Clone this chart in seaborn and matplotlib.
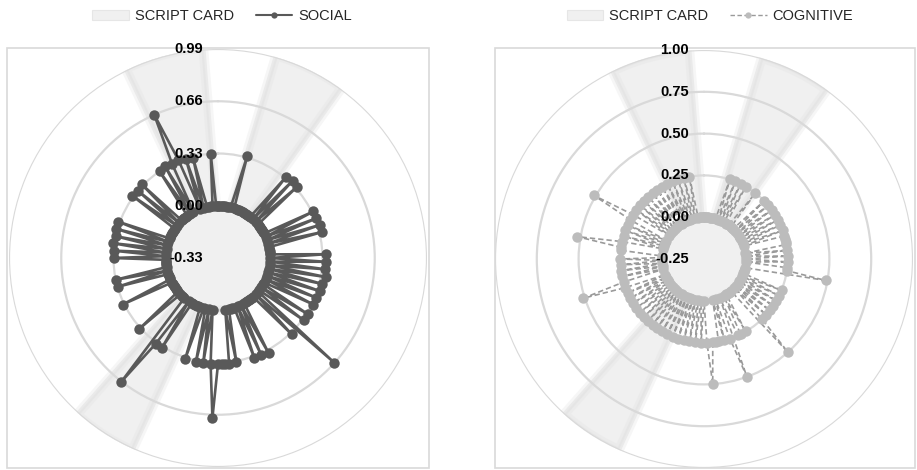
import numpy as np
import pandas as pd
import matplotlib
matplotlib.use("Agg")
import matplotlib.pyplot as plt
import matplotlib.transforms as mtransforms
from matplotlib.patches import Rectangle, Patch
from matplotlib.lines import Line2D
import seaborn as sns

# ---------------- data (180 categories, clockwise from top) ----------------
categories = list(range(1, 181))

script_card = (
    [0, 0, 0, 0, 0, 0, 0, 0, 1, 1, 1, 1, 1, 1, 1]
    + [1, 1, 1, 1, 0, 0, 0, 0, 0, 0, 0, 0, 0, 0, 0]
    + [0, 0, 0, 0, 0, 0, 0, 0, 0, 0, 0, 0, 0, 0, 0]
    + [0, 0, 0, 0, 0, 0, 0, 0, 0, 0, 0, 0, 0, 0, 0]
    + [0, 0, 0, 0, 0, 0, 0, 0, 0, 0, 0, 0, 0, 0, 0]
    + [0, 0, 0, 0, 0, 0, 0, 0, 0, 0, 0, 0, 0, 0, 0]
    + [0, 0, 0, 0, 0, 0, 0, 0, 0, 0, 0, 0, 1, 1, 1]
    + [1, 1, 1, 1, 1, 1, 1, 0, 0, 0, 0, 0, 0, 0, 0]
    + [0, 0, 0, 0, 0, 0, 0, 0, 0, 0, 0, 0, 0, 0, 0]
    + [0, 0, 0, 0, 0, 0, 0, 0, 0, 0, 0, 0, 0, 0, 0]
    + [0, 0, 0, 0, 0, 0, 0, 0, 0, 0, 0, 0, 0, 0, 0]
    + [0, 0, 1, 1, 1, 1, 1, 1, 1, 1, 1, 1, 1, 1, 0]
)

social = (
    [0, 0, 0, 0, 0, 0, 0, 0, 0.34, 0, 0, 0, 0, 0, 0]
    + [0, 0, 0, 0, 0, 0.34, 0, 0.35, 0, 0.34, 0, 0, 0, 0, 0]
    + [0, 0, 0.34, 0, 0.34, 0, 0.35, 0, 0.35, 0, 0, 0, 0, 0, 0.35]
    + [0, 0.35, 0, 0.35, 0, 0.36, 0, 0.35, 0, 0.35, 0, 0.34, 0, 0.34, 0]
    + [0, 0.34, 0, 0.34, 0, 0, 0.66, 0, 0.34, 0, 0, 0, 0, 0, 0]
    + [0, 0.35, 0, 0.34, 0, 0.34, 0, 0, 0, 0, 0.34, 0, 0.34, 0.34, 0.34]
    + [0.34, 0.68, 0.34, 0, 0.34, 0, 0.34, 0, 0, 0.34, 0, 0, 0, 0, 0]
    + [0, 0.34, 0, 0.34, 0.66, 0, 0, 0, 0, 0.34, 0, 0, 0, 0, 0]
    + [0, 0, 0.34, 0, 0, 0, 0, 0.33, 0, 0.33, 0, 0, 0, 0, 0]
    + [0.33, 0, 0.33, 0, 0.34, 0, 0.33, 0, 0.34, 0, 0.34, 0, 0, 0, 0]
    + [0, 0, 0, 0.34, 0, 0.33, 0, 0.34, 0, 0, 0, 0, 0, 0.33, 0]
    + [0.34, 0, 0.33, 0.66, 0.34, 0, 0.33, 0, 0.32, 0, 0, 0, 0, 0.33, 0]
)

cognitive = (
    [0, 0, 0, 0, 0, 0, 0, 0, 0, 0.25, 0, 0.25, 0, 0.25, 0]
    + [0.25, 0, 0, 0, 0.25, 0, 0, 0, 0.25, 0, 0.25, 0, 0.25, 0, 0.25]
    + [0, 0.25, 0, 0.25, 0, 0.25, 0, 0.25, 0.25, 0.25, 0.25, 0, 0.25, 0, 0.25]
    + [0, 0.25, 0, 0.25, 0.25, 0.49, 0, 0, 0, 0, 0, 0.25, 0, 0.25, 0]
    + [0.25, 0, 0.25, 0, 0.25, 0, 0.25, 0, 0.25, 0.5, 0, 0, 0, 0, 0]
    + [0.25, 0, 0.25, 0.25, 0, 0.5, 0.25, 0, 0.25, 0, 0.25, 0.25, 0.25, 0.5, 0.25]
    + [0, 0.25, 0, 0.25, 0, 0.25, 0, 0.25, 0, 0.25, 0, 0.25, 0, 0.25, 0]
    + [0.25, 0, 0.25, 0, 0.25, 0, 0.25, 0, 0.25, 0, 0.25, 0, 0.25, 0, 0.25]
    + [0, 0.25, 0, 0.25, 0, 0.25, 0.51, 0.25, 0, 0.25, 0, 0.25, 0, 0.25, 0]
    + [0.25, 0, 0, 0.25, 0.25, 0.52, 0.25, 0, 0.25, 0, 0.25, 0, 0.25, 0, 0.25]
    + [0.51, 0.25, 0, 0.25, 0, 0.25, 0, 0.25, 0, 0.25, 0, 0.25, 0, 0.25, 0]
    + [0.25, 0, 0.25, 0, 0.25, 0, 0.25, 0, 0.25, 0, 0.25, 0, 0, 0, 0]
)

left_ticks = [-0.33, 0.00, 0.33, 0.66, 0.99]
left_tick_labels = ["-0.33", "0.00", "0.33", "0.66", "0.99"]
right_ticks = [-0.25, 0.00, 0.25, 0.50, 0.75, 1.00]
right_tick_labels = ["-0.25", "0.00", "0.25", "0.50", "0.75", "1.00"]

# ---------------- style ----------------
sns.set_theme(style="white")
plt.rcParams["font.family"] = ["Liberation Sans", "DejaVu Sans"]

SOCIAL_C = "#595959"
COG_LINE = "#9a9a9a"
COG_MARK = "#bcbcbc"
CARD_FILL = "#f0f0f0"
CARD_EDGE = "#e2e2e2"
GRID_C = "#d9d9d9"

fig = plt.figure(figsize=(9.17, 4.70), dpi=100)
W, H = 917, 470

n = len(categories)
theta = np.array([2 * np.pi * (c - 1) / n for c in categories])
theta_closed = np.append(theta, 2 * np.pi)


def closed(vals):
    return list(vals) + [vals[0]]


# plot-area borders (drawn first, underneath everything)
for x0, x1 in [(7, 429), (495, 915)]:
    fig.patches.append(Rectangle((x0 / W, (H - 468) / H), (x1 - x0) / W, 420 / H,
                                 transform=fig.transFigure, fill=False,
                                 edgecolor="#d9d9d9", linewidth=1.2, zorder=-5))


def make_axes(cx, cy, r):
    ax = fig.add_axes([(cx - r) / W, (H - cy - r) / H, 2 * r / W, 2 * r / H],
                      projection="polar")
    ax.set_zorder(1)
    ax.set_theta_zero_location("N")
    ax.set_theta_direction(-1)
    ax.set_facecolor("none")
    ax.spines["polar"].set_visible(False)
    ax.set_xticks([])
    ax.xaxis.grid(False)
    ax.set_axisbelow(True)
    return ax


def setup_radial(ax, ticks, labels, dx):
    ax.set_ylim(ticks[0], ticks[-1])
    ax.set_yticks(ticks)
    ax.set_yticklabels([""] * len(ticks))
    ax.yaxis.grid(True, color=GRID_C, linewidth=1.6)
    off = mtransforms.offset_copy(ax.transData, fig=fig, x=dx, y=0, units="dots")
    for v, lab in zip(ticks, labels):
        ax.text(0, v, lab, transform=off, ha="right", va="center",
                fontsize=10.5, fontweight="bold", color="#000000",
                zorder=10, clip_on=False)
    ax.set_xlabel("")
    ax.set_ylabel("")


def draw_card(ax):
    vals = closed(script_card)
    ax.fill(theta_closed, vals, facecolor=CARD_FILL, edgecolor="none", zorder=0.2)
    ax.plot(theta_closed, vals, color=CARD_EDGE, lw=7, alpha=0.3, zorder=0.25,
            solid_joinstyle="round")
    ax.plot(theta_closed, vals, color=CARD_EDGE, lw=3, alpha=0.6, zorder=0.3)


# ---------------- left: SOCIAL ----------------
axL = make_axes(218, 258, 209)
draw_card(axL)
dfL = pd.DataFrame({"theta": theta_closed, "value": closed(social)})
sns.lineplot(data=dfL, x="theta", y="value", ax=axL, sort=False, estimator=None,
             color=SOCIAL_C, linewidth=1.9, marker="o", markersize=7.5,
             markeredgecolor=SOCIAL_C, markeredgewidth=0, legend=False, zorder=3)
setup_radial(axL, left_ticks, left_tick_labels, -15)

# ---------------- right: COGNITIVE ----------------
axR = make_axes(704, 259, 209)
draw_card(axR)
dfR = pd.DataFrame({"theta": theta_closed, "value": closed(cognitive)})
sns.lineplot(data=dfR, x="theta", y="value", ax=axR, sort=False, estimator=None,
             color=COG_LINE, linewidth=1.2, linestyle=(0, (3.2, 1.8)), marker="o",
             markersize=7.5, markerfacecolor=COG_MARK, markeredgecolor=COG_MARK,
             markeredgewidth=0, legend=False, zorder=3)
setup_radial(axR, right_ticks, right_tick_labels, -15)

# ---------------- legends ----------------
card_handle = Patch(facecolor=CARD_FILL, edgecolor="#e6e6e6", linewidth=0.8)
soc_handle = Line2D([], [], color=SOCIAL_C, lw=1.5, marker="o", markersize=4.5,
                    markeredgewidth=0)
cog_handle = Line2D([], [], color=COG_LINE, lw=1.0, linestyle=(0, (3.2, 1.8)),
                    marker="o", markersize=4.5, markerfacecolor=COG_MARK,
                    markeredgewidth=0)

leg_kw = dict(loc="center", ncol=2, frameon=False, fontsize=10.5,
              handlelength=2.5, handleheight=0.75, handletextpad=0.4,
              columnspacing=1.5, labelcolor="#262626")
fig.legend([card_handle, soc_handle], ["SCRIPT CARD", "SOCIAL"],
           bbox_to_anchor=(222 / W, 1 - 16 / H), **leg_kw)
fig.legend([card_handle, cog_handle], ["SCRIPT CARD", "COGNITIVE"],
           bbox_to_anchor=(710 / W, 1 - 16 / H), **leg_kw)

fig.savefig("out.png", dpi=100, facecolor="white")
